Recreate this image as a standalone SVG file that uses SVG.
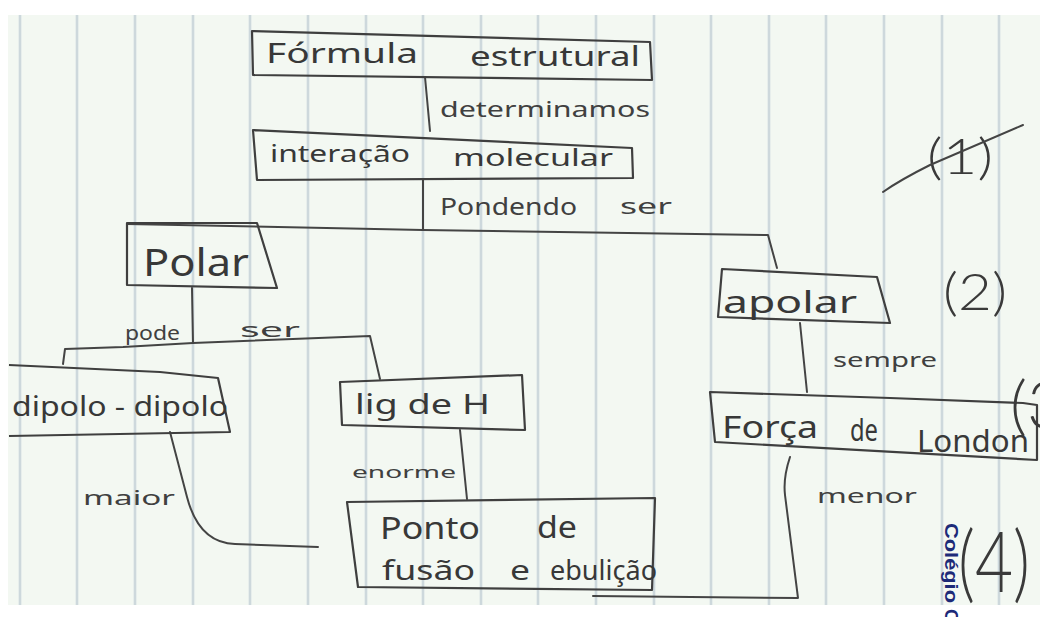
<svg xmlns="http://www.w3.org/2000/svg" width="1040" height="617" viewBox="0 0 1040 617">
  <defs>
    <style>
      .ink { fill: none; stroke: #444; stroke-width: 2; stroke-linejoin: round; stroke-linecap: round; }
      .box { fill: none; stroke: #3f3f3f; stroke-width: 2.2; stroke-linejoin: round; }
      .t { font-family: "Noto Sans", "DejaVu Sans", sans-serif; fill: #383838; }
      .lbl { font-family: "Noto Sans", "DejaVu Sans", sans-serif; fill: #404040; }
      .mark { font-family: Lato, "Open Sans", sans-serif; font-weight: 300; fill: #3a3a3a; }
      .rule { stroke: #cdd8dc; stroke-width: 2.6; }
      .stamp { font-family: "Liberation Sans", Arial, sans-serif; font-weight: bold; fill: #1d2a78; }
    </style>
  </defs>

  <!-- sheet of ruled paper -->
  <rect x="0" y="0" width="1040" height="617" fill="#ffffff"/>
  <rect x="8" y="15" width="1032" height="590" fill="#f3f8f2"/>
  <g id="ruling">
    <line class="rule" x1="20" y1="15" x2="20" y2="605"/>
    <line class="rule" x1="77" y1="15" x2="77" y2="605"/>
    <line class="rule" x1="135" y1="15" x2="135" y2="605"/>
    <line class="rule" x1="193" y1="15" x2="193" y2="605"/>
    <line class="rule" x1="250" y1="15" x2="250" y2="605"/>
    <line class="rule" x1="308" y1="15" x2="308" y2="605"/>
    <line class="rule" x1="366" y1="15" x2="366" y2="605"/>
    <line class="rule" x1="423" y1="15" x2="423" y2="605"/>
    <line class="rule" x1="481" y1="15" x2="481" y2="605"/>
    <line class="rule" x1="538" y1="15" x2="538" y2="605"/>
    <line class="rule" x1="596" y1="15" x2="596" y2="605"/>
    <line class="rule" x1="654" y1="15" x2="654" y2="605"/>
    <line class="rule" x1="711" y1="15" x2="711" y2="605"/>
    <line class="rule" x1="769" y1="15" x2="769" y2="605"/>
    <line class="rule" x1="826" y1="15" x2="826" y2="605"/>
    <line class="rule" x1="884" y1="15" x2="884" y2="605"/>
    <line class="rule" x1="942" y1="15" x2="942" y2="605"/>
    <line class="rule" x1="999" y1="15" x2="999" y2="605"/>
  </g>

  <!-- connectors and their link words -->
  <g id="connectors">
    <path class="ink" d="M425,77 L430,131"/>
    <path class="ink" d="M423,179 L423,230"/>
    <path class="ink" d="M127,224 L423,230 L768,235 L777,268"/>
    <path class="ink" d="M192,288 L193,343"/>
    <path class="ink" d="M63,364 L65,349 L123,347 L193,343 L370,336 L380,379"/>
    <path class="ink" d="M170,432 L187,497 Q199,543 235,544 L318,547"/>
    <path class="ink" d="M460,430 L467,499"/>
    <path class="ink" d="M800,323 L807,392"/>
    <path class="ink" d="M790,457 Q783,478 785,495 L798,598 L593,596"/>

    <text class="lbl" x="440" y="117" font-size="22" textLength="210" lengthAdjust="spacingAndGlyphs">determinamos</text>
    <text class="lbl" x="440" y="215" font-size="24" textLength="137" lengthAdjust="spacingAndGlyphs">Pondendo</text>
    <text class="lbl" x="620" y="214" font-size="22" textLength="52" lengthAdjust="spacingAndGlyphs">ser</text>
    <text class="lbl" x="125" y="340" font-size="20" textLength="55" lengthAdjust="spacingAndGlyphs">pode</text>
    <text class="lbl" x="240" y="337" font-size="20" textLength="60" lengthAdjust="spacingAndGlyphs">ser</text>
    <text class="lbl" x="352" y="478" font-size="17" textLength="104" lengthAdjust="spacingAndGlyphs">enorme</text>
    <text class="lbl" x="83" y="505" font-size="20" textLength="92" lengthAdjust="spacingAndGlyphs">maior</text>
    <text class="lbl" x="833" y="367" font-size="19" textLength="104" lengthAdjust="spacingAndGlyphs">sempre</text>
    <text class="lbl" x="817" y="503" font-size="19" textLength="100" lengthAdjust="spacingAndGlyphs">menor</text>
  </g>

  <!-- concept boxes -->
  <g id="formula-estrutural">
    <path class="box" d="M252,31 L650,42 L652,80 L253,75 Z"/>
    <text class="t" x="266" y="63" font-size="28" textLength="152" lengthAdjust="spacingAndGlyphs">Fórmula</text>
    <text class="t" x="470" y="66" font-size="28" textLength="170" lengthAdjust="spacingAndGlyphs">estrutural</text>
  </g>

  <g id="interacao-molecular">
    <path class="box" d="M253,130 L632,148 L633,178 L257,180 Z"/>
    <text class="t" x="270" y="162" font-size="24" textLength="140" lengthAdjust="spacingAndGlyphs">interação</text>
    <text class="t" x="453" y="166" font-size="24" textLength="160" lengthAdjust="spacingAndGlyphs">molecular</text>
  </g>

  <g id="polar">
    <path class="box" d="M127,223 L257,223 L277,288 L127,285 Z"/>
    <text class="t" x="143" y="276" font-size="38" textLength="106" lengthAdjust="spacingAndGlyphs">Polar</text>
  </g>

  <g id="dipolo-dipolo">
    <path class="box" d="M9,365 L160,372 L218,378 L230,432 L9,436"/>
    <text class="t" x="12" y="416" font-size="28" textLength="216" lengthAdjust="spacingAndGlyphs">dipolo - dipolo</text>
  </g>

  <g id="lig-de-h">
    <path class="box" d="M340,382 L522,375 L525,430 L342,425 Z"/>
    <text class="t" x="355" y="414" font-size="27" textLength="135" lengthAdjust="spacingAndGlyphs">lig de H</text>
  </g>

  <g id="ponto-de-fusao">
    <path class="box" d="M347,502 L655,498 L652,590 L358,587 Z"/>
    <text class="t" x="380" y="539" font-size="30" textLength="100" lengthAdjust="spacingAndGlyphs">Ponto</text>
    <text class="t" x="537" y="538" font-size="30" textLength="40" lengthAdjust="spacingAndGlyphs">de</text>
    <text class="t" x="382" y="580" font-size="28" textLength="93" lengthAdjust="spacingAndGlyphs">fusão</text>
    <text class="t" x="510" y="580" font-size="28" textLength="20" lengthAdjust="spacingAndGlyphs">e</text>
    <text class="t" x="550" y="580" font-size="28" textLength="107" lengthAdjust="spacingAndGlyphs">ebulição</text>
  </g>

  <g id="apolar">
    <path class="box" d="M722,269 L877,277 L890,323 L718,317 Z"/>
    <text class="t" x="723" y="313" font-size="30" textLength="134" lengthAdjust="spacingAndGlyphs">apolar</text>
  </g>

  <g id="forca-de-london">
    <path class="box" d="M710,392 L890,398 L1023,403 L1037,405 L1037,460 L715,442 Z"/>
    <text class="t" x="722" y="438" font-size="30" textLength="96" lengthAdjust="spacingAndGlyphs">Força</text>
    <text class="t" x="850" y="441" font-size="30" textLength="28" lengthAdjust="spacingAndGlyphs">de</text>
    <text class="t" x="917" y="452" font-size="30" textLength="112" lengthAdjust="spacingAndGlyphs">London</text>
  </g>

  <!-- margin marks -->
  <g id="marks">
    <text class="mark" x="927" y="174" font-size="50" textLength="66" lengthAdjust="spacingAndGlyphs">(1)</text>
    <path class="ink" d="M883,192 Q900,180 930,165 L1023,125"/>
    <text class="mark" x="943" y="310" font-size="52" textLength="64" lengthAdjust="spacingAndGlyphs">(2)</text>
    <text class="mark" x="1010" y="428" font-size="66">(3</text>
    <text class="mark" x="958" y="592" font-size="84" textLength="72" lengthAdjust="spacingAndGlyphs">(4)</text>
  </g>

  <!-- school stamp along the edge -->
  <g id="stamp">
    <text class="stamp" transform="translate(945,523) rotate(90)" font-size="19" textLength="80" lengthAdjust="spacingAndGlyphs">Colégio</text>
    <text class="stamp" transform="translate(945,609) rotate(90)" font-size="19">C</text>
  </g>
</svg>
